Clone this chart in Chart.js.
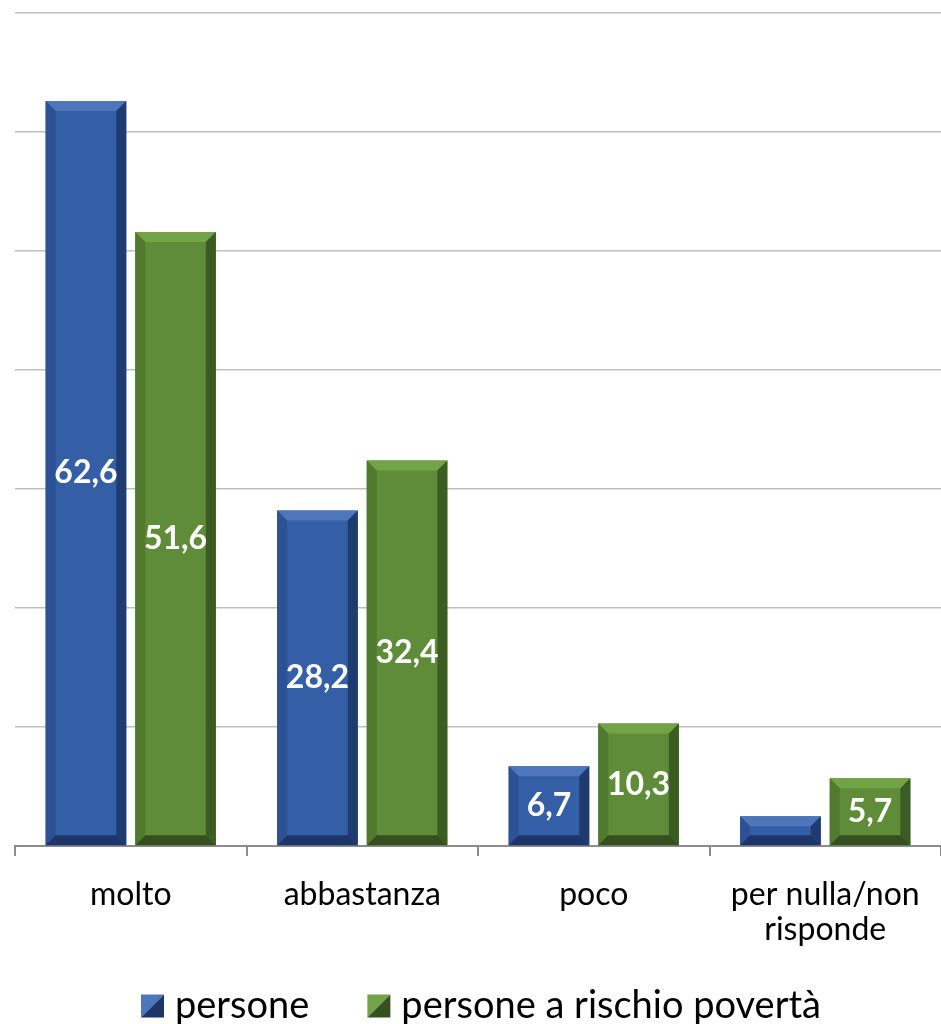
<!DOCTYPE html>
<html>
<head>
<meta charset="utf-8">
<script src="https://cdn.jsdelivr.net/npm/chart.js@4.4.1/dist/chart.umd.min.js"></script>
<style>
  body { margin: 0; background: #fff; }
  #wrap { width: 941px; height: 1024px; }
</style>
</head>
<body>
<div id="wrap"><canvas id="myChart"></canvas></div>
<script>
let myLabels = ['molto', 'abbastanza', 'poco', ['per nulla/non', 'risponde']];
let seriesNames = ['persone', 'persone a rischio povertà'];
let personeData = [62.6, 28.2, 6.7, 2.5];
let rischioData = [51.6, 32.4, 10.3, 5.7];

// face, top, left, right, bottom
let bluePalette = ['#345ea6', '#4d76bd', '#2c5295', '#1f3b70', '#1d3667'];
let greenPalette = ['#5e8c38', '#72a347', '#507b2f', '#3b5c22', '#354f1e'];

let fontName = 'Lato, "Open Sans", sans-serif';
let legendFont = 38;
let legendSlot = 36;   // space the legend reserves for the marker
let legendBox = 23;    // drawn marker size

let fmt = v => v.toFixed(1).replace('.', ',');

// bevel look + value labels
let bevelPlugin = {
    id: 'bevel',
    afterDatasetsDraw(chart) {
        let c = chart.ctx;
        chart.data.datasets.forEach((ds, di) => {
            let pal = ds.palette;
            chart.getDatasetMeta(di).data.forEach((bar, i) => {
                let p = bar.getProps(['x', 'y', 'base', 'width'], true);
                let l = p.x - p.width / 2, r = p.x + p.width / 2, t = p.y, b = p.base;
                let h = b - t;
                let s = Math.min(10, h / 2, p.width / 2);
                let poly = (pts, col) => {
                    c.beginPath();
                    c.moveTo(pts[0][0], pts[0][1]);
                    for (let k = 1; k < pts.length; k++) c.lineTo(pts[k][0], pts[k][1]);
                    c.closePath();
                    c.fillStyle = col;
                    c.fill();
                };
                c.save();
                poly([[l, t], [r, t], [r - s, t + s], [l + s, t + s]], pal[1]);
                poly([[l, t], [l + s, t + s], [l + s, b - s], [l, b]], pal[2]);
                poly([[r, t], [r, b], [r - s, b - s], [r - s, t + s]], pal[3]);
                poly([[l, b], [l + s, b - s], [r - s, b - s], [r, b]], pal[4]);
                if (h > 40) {
                    c.fillStyle = '#fff';
                    c.font = 'bold 32px ' + fontName;
                    c.textAlign = 'center';
                    c.textBaseline = 'middle';
                    c.fillText(fmt(ds.data[i]), p.x, t + h / 2);
                }
                c.restore();
            });
        });
    },
    afterDraw(chart) {
        let lg = chart.legend;
        if (!lg || !lg.legendHitBoxes) return;
        let c = chart.ctx;
        lg.legendHitBoxes.forEach((hb, i) => {
            let pal = chart.data.datasets[i].palette;
            let bw = legendBox;
            let x0 = hb.left + legendSlot + legendFont / 2 - 11 - bw;
            let y0 = hb.top + (hb.height - bw) / 2;
            c.save();
            c.beginPath();
            c.moveTo(x0, y0); c.lineTo(x0 + bw, y0); c.lineTo(x0, y0 + bw); c.closePath();
            c.fillStyle = pal[1]; c.fill();
            c.beginPath();
            c.moveTo(x0 + bw, y0); c.lineTo(x0 + bw, y0 + bw); c.lineTo(x0, y0 + bw); c.closePath();
            c.fillStyle = pal[4]; c.fill();
            c.restore();
        });
    }
};

let ctx = document.getElementById('myChart').getContext('2d');
let myChart = new Chart(ctx, {
    type: 'bar',
    data: {
        labels: myLabels,
        datasets: [{
            label: seriesNames[0],
            data: personeData,
            backgroundColor: bluePalette[0],
            palette: bluePalette,
            borderWidth: 0,
            categoryPercentage: 0.774,
            barPercentage: 0.9
        }, {
            label: seriesNames[1],
            data: rischioData,
            backgroundColor: greenPalette[0],
            palette: greenPalette,
            borderWidth: 0,
            categoryPercentage: 0.774,
            barPercentage: 0.9
        }]
    },
    options: {
        responsive: true,
        maintainAspectRatio: false,
        animation: false,
        layout: { padding: { left: 0, right: 0, top: 13, bottom: -11 } },
        plugins: {
            tooltip: { enabled: false },
            legend: {
                position: 'bottom',
                labels: {
                    color: '#000',
                    font: { family: fontName, size: legendFont },
                    boxWidth: legendSlot,
                    boxHeight: legendBox,
                    padding: 37,
                    generateLabels: chart => chart.data.datasets.map((ds, i) => ({
                        text: ds.label,
                        fillStyle: 'rgba(0,0,0,0)',
                        strokeStyle: 'rgba(0,0,0,0)',
                        lineWidth: 0,
                        fontColor: '#000',
                        datasetIndex: i,
                        hidden: false
                    }))
                }
            }
        },
        scales: {
            x: {
                afterFit: axis => { axis.height = 104; },
                grid: {
                    display: true,
                    drawOnChartArea: false,
                    drawTicks: true,
                    tickLength: 10,
                    color: '#8c8c8c',
                    lineWidth: 2
                },
                border: { display: true, color: '#8c8c8c', width: 2 },
                ticks: {
                    color: '#000',
                    font: { family: fontName, size: 32, lineHeight: 1.1 },
                    padding: 21
                }
            },
            y: {
                min: 0,
                max: 70,
                afterFit: axis => { axis.width = 15; },
                ticks: { display: false, stepSize: 10 },
                grid: { color: '#bfbfbf', lineWidth: 1.5, drawTicks: false },
                border: { display: false }
            }
        }
    },
    plugins: [bevelPlugin]
});
</script>
</body>
</html>
